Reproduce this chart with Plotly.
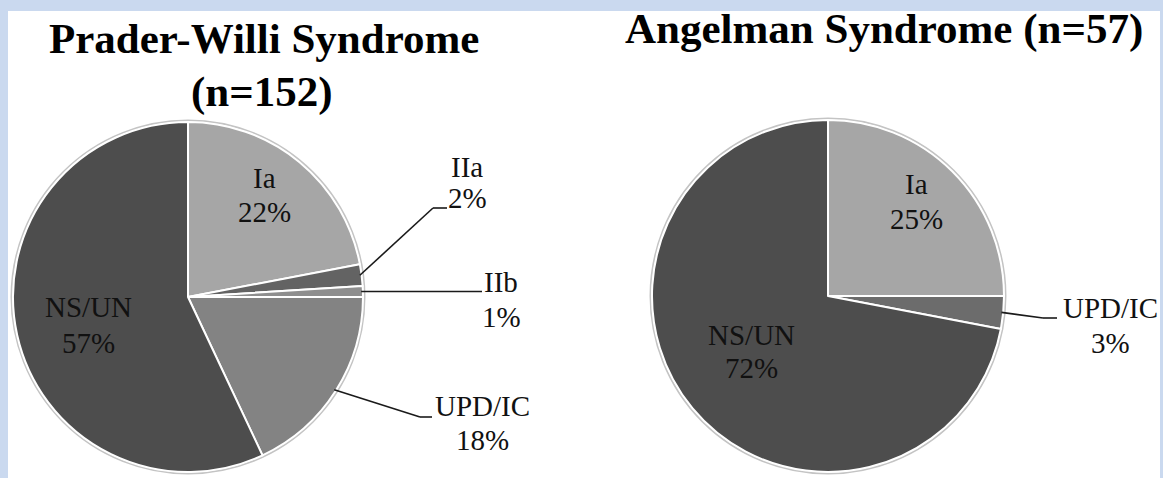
import math
import plotly.graph_objects as go

# ---------------- data ----------------
pw_labels = ["Ia", "IIa", "IIb", "UPD/IC", "NS/UN"]
pw_values = [22, 2, 1, 18, 57]
pw_colors = ["#a6a6a6", "#636363", "#8e8e8e", "#838383", "#4d4d4d"]

as_labels = ["Ia", "UPD/IC", "NS/UN"]
as_values = [25, 3, 72]
as_colors = ["#a6a6a6", "#6c6c6c", "#4d4d4d"]

pw_title = ["Prader-Willi Syndrome", "(n=152)"]
as_title = "Angelman Syndrome (n=57)"

# ---------------- layout helpers ----------------
W, H = 1163, 478
FONT = "Liberation Serif, Times New Roman, serif"
LABEL_SIZE = 29
TITLE_SIZE = 43


def px(x):
    return x / W


def py(y):
    return 1 - y / H


# pie geometry (pixels): centre x, centre y, radius
PW_GEO = (188, 297, 175)
AS_GEO = (828, 296, 176)

fig = go.Figure()
annotations = []
shapes = []

# white panel on light-blue frame
shapes.append(dict(type="rect", xref="paper", yref="paper", layer="below",
                   x0=px(8), x1=px(1160), y0=py(478), y1=py(11),
                   fillcolor="white", line=dict(width=0)))


def add_pie(labels, values, colors, geo):
    cx, cy, r = geo
    fig.add_trace(go.Pie(
        labels=labels, values=values, sort=False, direction="clockwise",
        rotation=0, textinfo="none", hoverinfo="label+percent",
        marker=dict(colors=colors, line=dict(color="white", width=2)),
        domain=dict(x=[px(cx - r), px(cx + r)], y=[py(cy + r), py(cy - r)]),
        showlegend=False,
    ))
    # faint shadow rim around the pie
    shapes.append(dict(type="circle", xref="paper", yref="paper", layer="below",
                       x0=px(cx - r - 1.5), x1=px(cx + r + 1.5),
                       y0=py(cy + r + 1.5), y1=py(cy - r - 1.5),
                       line=dict(color="#c4c4c4", width=2)))


add_pie(pw_labels, pw_values, pw_colors, PW_GEO)
add_pie(as_labels, as_values, as_colors, AS_GEO)


def mid_point(values, idx, geo, frac=1.0):
    cx, cy, r = geo
    tot = sum(values)
    start = sum(values[:idx])
    mid = (start + values[idx] / 2) / tot * 2 * math.pi
    return cx + frac * r * math.sin(mid), cy - frac * r * math.cos(mid)


def label(text_lines, cx, cy, spacing=35, size=LABEL_SIZE):
    n = len(text_lines)
    for i, t in enumerate(text_lines):
        y = cy + (i - (n - 1) / 2) * spacing
        annotations.append(dict(text=t, x=px(cx), y=py(y), xref="paper", yref="paper",
                                xanchor="center", yanchor="middle", showarrow=False,
                                font=dict(family=FONT, size=size, color="#111111")))


def pct(values, i):
    return f"{round(values[i] / sum(values) * 100)}%"


def leader(values, idx, geo, elbow, end):
    sx, sy = mid_point(values, idx, geo, 0.99)
    for (x0, y0), (x1, y1) in [((sx, sy), elbow), (elbow, end)]:
        shapes.append(dict(type="line", xref="paper", yref="paper",
                           x0=px(x0), y0=py(y0), x1=px(x1), y1=py(y1),
                           line=dict(color="#1a1a1a", width=1.6)))


# Prader-Willi labels
label([pw_labels[0], pct(pw_values, 0)], 264, 195)
label([pw_labels[1], pct(pw_values, 1)], 467, 182, spacing=31)
label([pw_labels[2], pct(pw_values, 2)], 501, 299)
label([pw_labels[3], pct(pw_values, 3)], 482, 423, spacing=34)
label([pw_labels[4], pct(pw_values, 4)], 88, 325, spacing=36)
leader(pw_values, 1, PW_GEO, (433, 208), (447, 208))
leader(pw_values, 2, PW_GEO, (420, 291.5), (482, 291.5))
leader(pw_values, 3, PW_GEO, (420, 417), (432, 417))

# Angelman labels
label([as_labels[0], pct(as_values, 0)], 916, 201)
label([as_labels[1], pct(as_values, 1)], 1110, 325)
label([as_labels[2], pct(as_values, 2)], 751, 351, spacing=33)
leader(as_values, 1, AS_GEO, (1043, 318), (1057, 318))


def title(text, x, y):
    annotations.append(dict(text="<b>" + text + "</b>", x=px(x), y=py(y),
                            xref="paper", yref="paper", xanchor="center", yanchor="middle",
                            showarrow=False,
                            font=dict(family=FONT, size=TITLE_SIZE, color="#000")))


title(pw_title[0], 264, 38)
title(pw_title[1], 262, 92)
title(as_title, 884, 29)

fig.update_layout(
    width=W, height=H,
    margin=dict(l=0, r=0, t=0, b=0),
    paper_bgcolor="#cad9ef",
    plot_bgcolor="white",
    annotations=annotations,
    shapes=shapes,
    showlegend=False,
)

fig.write_html("out.html",
               config={"displayModeBar": False},
               post_script="document.body.style.margin='0';document.body.style.padding='0';")
